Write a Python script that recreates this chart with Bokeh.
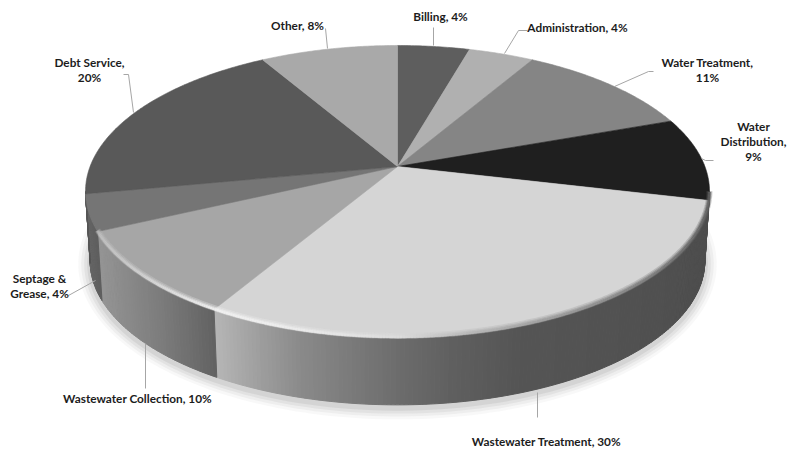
import numpy as np
from bokeh.plotting import figure
from bokeh.embed import file_html
from bokeh.resources import INLINE
from bokeh.core.properties import value

categories = ["Billing", "Administration", "Water Treatment", "Water Distribution",
              "Wastewater Treatment", "Wastewater Collection", "Septage & Grease",
              "Debt Service", "Other"]
shares = [4.4, 4.0, 11.1, 9.2, 29.8, 9.5, 4.0, 19.6, 8.4]
labels = [["Billing, 4%"], ["Administration, 4%"], ["Water Treatment,", "11%"],
          ["Water", "Distribution,", "9%"], ["Wastewater Treatment, 30%"],
          ["Wastewater Collection, 10%"], ["Septage &", "Grease, 4%"],
          ["Debt Service,", "20%"], ["Other, 8%"]]
top_colors = ["#5e5e5e", "#b0b0b0", "#858585", "#1f1f1f", "#d5d5d5",
              "#a6a6a6", "#757575", "#595959", "#a9a9a9"]

W, H = 788, 449
p = figure(width=W, height=H, x_range=(0, W), y_range=(H, 0),
           output_backend="svg", toolbar_location=None, min_border=0,
           outline_line_color=None, background_fill_color="white")
p.axis.visible = False
p.grid.visible = False

CX, CY = 397.0, 166.0
A, B, K = 141.7, 307.4, 0.171
DROP, SHRINK = 70.0, 0.985


def top(theta):
    u, v = np.sin(theta), np.cos(theta)
    d = 1 + K * v
    return CX + B * u / d, CY - A * v / d


def bottom(theta):
    x, y = top(theta)
    return CX + SHRINK * (x - CX), CY + DROP + SHRINK * (y - CY)


edges = np.cumsum([0.0] + shares) / sum(shares) * 2 * np.pi
TH_R = np.arccos(-K)
TH_L = 2 * np.pi - TH_R

# soft shadow: growing translucent copies of the lower disc
th = np.linspace(0, 2 * np.pi, 240)
bx, by = bottom(th)
ymid = (by.max() + by.min()) / 2
for d, a in [(12, 0.05), (9, 0.07), (6, 0.09), (3, 0.12)]:
    sxs = CX + (bx - CX) * (1 + d / 310)
    sys = ymid + 3 + (by - ymid) * (1 + d / 150)
    p.patch(sxs, sys, fill_color="#707070", fill_alpha=a, line_color=None)

# side wall shading: stops along the screen x of each slice's wall
wall_stops = {
    3: ([690, 710], [0x55, 0x50]),
    4: ([217, 232, 262, 300, 345, 400, 450, 520, 620, 710],
        [0xb4, 0xac, 0x9c, 0x8a, 0x7c, 0x6c, 0x60, 0x55, 0x52, 0x4e]),
    5: ([90, 115, 150, 185, 217], [0x98, 0x8e, 0x80, 0x70, 0x60]),
    6: ([80, 100], [0x6a, 0x5c]),
    7: ([80, 100], [0x55, 0x55]),
}
qx, qy, qc = [], [], []
for i, (a0, a1) in enumerate(zip(edges[:-1], edges[1:])):
    lo, hi = max(a0, TH_R), min(a1, TH_L)
    if hi <= lo or i not in wall_stops:
        continue
    n = max(2, int((hi - lo) / 0.012))
    t = np.linspace(lo, hi, n + 1)
    tx, ty = top(t)
    ux, uy = bottom(t)
    xs_s, ys_s = wall_stops[i]
    for j in range(n):
        g = int(np.interp((tx[j] + tx[j + 1]) / 2, xs_s, ys_s))
        qx.append([tx[j], tx[j + 1], ux[j + 1], ux[j]])
        qy.append([ty[j], ty[j + 1], uy[j + 1], uy[j]])
        qc.append(f"#{g:02x}{g:02x}{g:02x}")
p.patches(qx, qy, fill_color=qc, line_color=qc, line_width=1)

# top faces
fx, fy = [], []
for a0, a1 in zip(edges[:-1], edges[1:]):
    t = np.linspace(a0, a1, max(4, int((a1 - a0) / 0.01)))
    x, y = top(t)
    fx.append(np.r_[CX, x].tolist())
    fy.append(np.r_[CY, y].tolist())
p.patches(fx, fy, fill_color=top_colors, line_color=top_colors, line_width=0.6)

# bevelled rim along the front edge
rim_x = [85, 100, 217, 300, 400, 470, 540, 620, 680, 710]
rim_g = [0x7a, 0xc0, 0xf2, 0xec, 0xdc, 0xb8, 0xa0, 0x88, 0x70, 0x60]
t = np.linspace(edges[4] - 0.25, edges[6], 360)
t = t[t >= TH_R]
rx, ry = top(t)
for width, alpha, off in [(6, 0.3, -1.5), (4, 0.5, -1.0), (2.4, 0.9, -0.5)]:
    sx, sy, sc = [], [], []
    for j in range(len(t) - 1):
        g = int(np.interp(rx[j], rim_x, rim_g))
        sx.append([rx[j], rx[j + 1]])
        sy.append([ry[j] + off, ry[j + 1] + off])
        sc.append(f"#{g:02x}{g:02x}{g:02x}")
    p.multi_line(sx, sy, line_color=sc, line_width=width, line_alpha=alpha)

# leader lines
leaders = [([433, 433], [27, 45]), ([527, 518, 504], [30, 30, 53]),
           ([653, 648, 614], [71, 71, 86]), ([713, 705, 701], [160, 160, 158]),
           ([537, 537], [392, 417]), ([145, 145], [343, 388]),
           ([68, 95], [295, 280]), ([123, 128, 133], [74, 74, 112]),
           ([325, 327], [28, 48])]
p.multi_line([l[0] for l in leaders], [l[1] for l in leaders],
             line_color="#a6a6a6", line_width=1)

# labels
anchors = [(440, 16), (577, 27), (707, 62), (753, 126), (546, 441), (137, 398),
           (39, 278), (89, 62), (297, 25)]
tx_, ty_, tt = [], [], []
for (ax, ay), lines in zip(anchors, labels):
    for k, s in enumerate(lines):
        tx_.append(ax)
        ty_.append(ay + 15 * k)
        tt.append(s)
p.text(tx_, ty_, text=tt, text_font=value("Lato"), text_font_style="bold",
       text_font_size="11.8px", text_align="center", text_baseline="middle",
       text_color="#1c1c1c")

open("out.html", "w").write(file_html(p, INLINE))
